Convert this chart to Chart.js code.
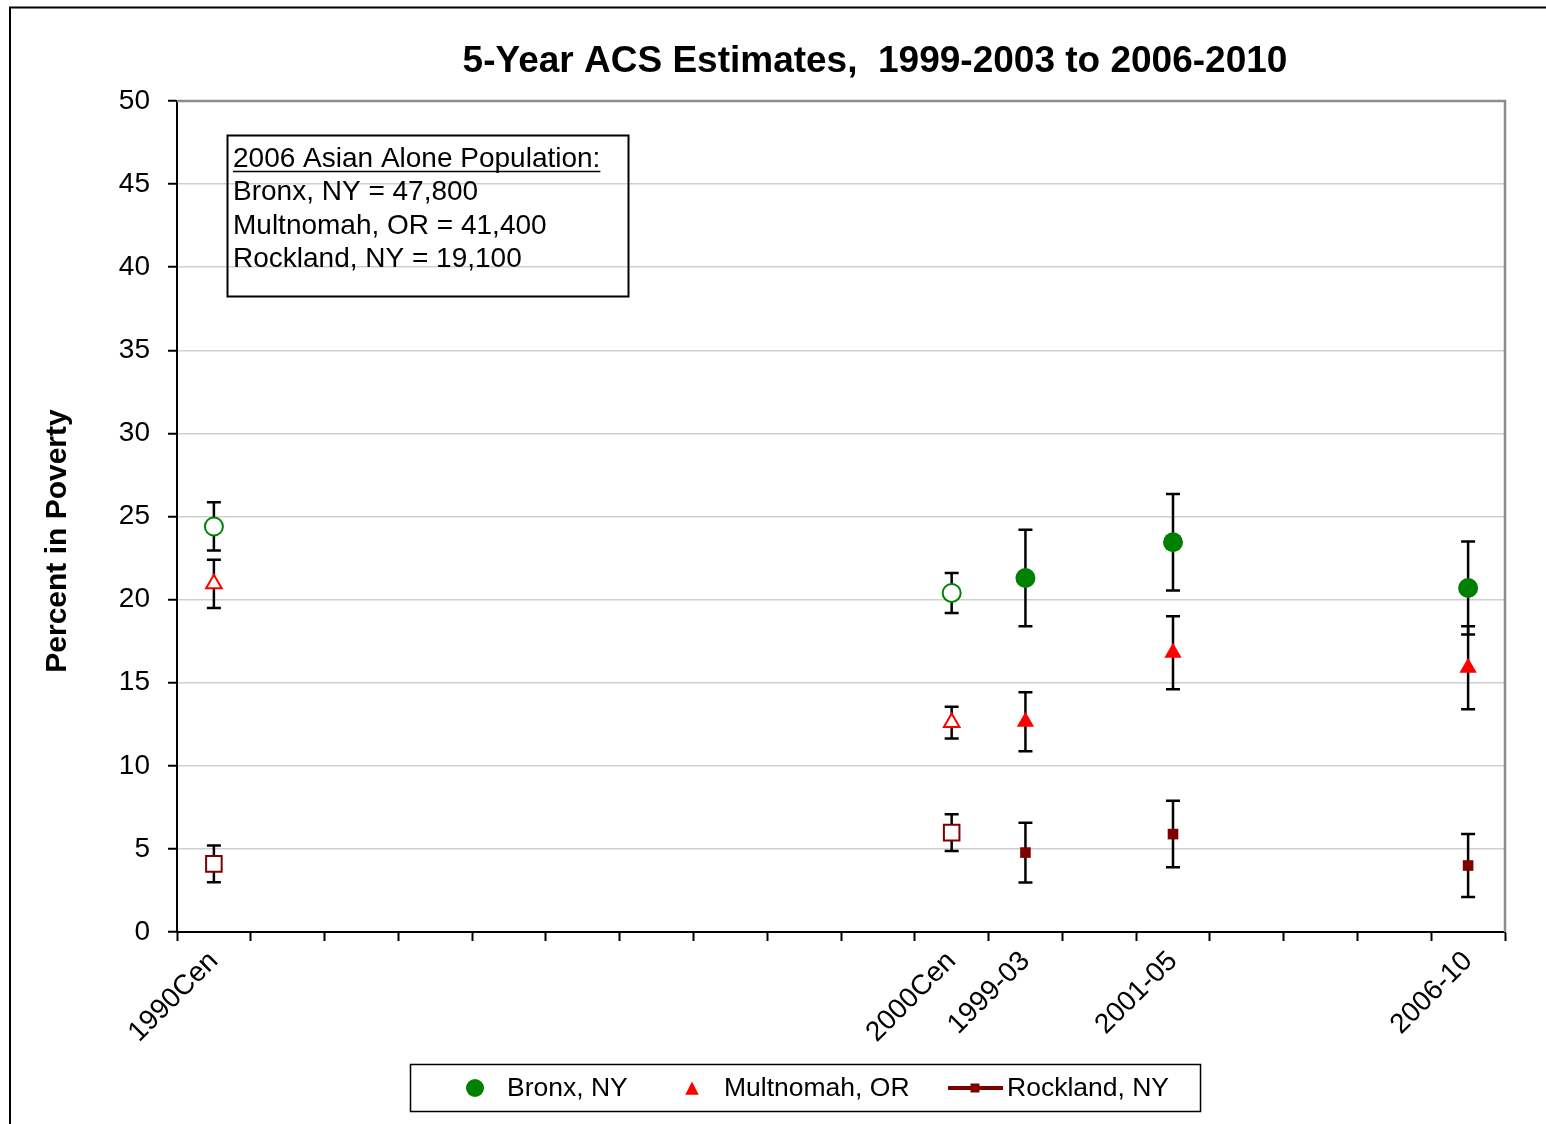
<!DOCTYPE html>
<html>
<head>
<meta charset="utf-8">
<title>5-Year ACS Estimates</title>
<script src="https://cdn.jsdelivr.net/npm/chart.js@4.4.1/dist/chart.umd.min.js"></script>
<style>
  html, body { margin: 0; padding: 0; background: #fff; }
  #wrap { width: 1546px; height: 1124px; }
</style>
</head>
<body>
<div id="wrap"><canvas id="povertyChart" width="1546" height="1124"></canvas></div>
<script>
// categories on the x axis, only a few carry a label
const categories = ['1990Cen', '', '', '', '', '', '', '', '', '', '2000Cen', '1999-03', '', '2001-05', '', '', '', '2006-10'];

const bronxValues = [24.4, null, null, null, null, null, null, null, null, null, 20.4, 21.3, null, 23.45, null, null, null, 20.7];
const bronxErrors = [1.45, null, null, null, null, null, null, null, null, null, 1.2, 2.9, null, 2.9, null, null, null, 2.8];

const multnomahValues = [20.95, null, null, null, null, null, null, null, null, null, 12.6, 12.65, null, 16.8, null, null, null, 15.9];
const multnomahErrors = [1.45, null, null, null, null, null, null, null, null, null, 0.95, 1.78, null, 2.2, null, null, null, 2.5];

const rocklandValues = [4.1, null, null, null, null, null, null, null, null, null, 5.98, 4.78, null, 5.89, null, null, null, 4.0];
const rocklandErrors = [1.1, null, null, null, null, null, null, null, null, null, 1.1, 1.8, null, 2.0, null, null, null, 1.9];

const yTicks = { min: 0, max: 50, step: 5 };

const titleText = '5-Year ACS Estimates,  1999-2003 to 2006-2010';
const yAxisTitle = 'Percent in Poverty';
const noteLines = ['2006 Asian Alone Population:', 'Bronx, NY = 47,800', 'Multnomah, OR = 41,400', 'Rockland, NY = 19,100'];

const FONT = 'Arial, "Liberation Sans", sans-serif';

// census columns get hollow markers
function isCensus(i) {
  return categories[i].endsWith('Cen');
}

function makeDataset(label, values, errors, color, style, openRadius, filledRadius) {
  return {
    label: label,
    data: values,
    errorBars: errors,
    showLine: false,
    markerColor: color,
    pointStyle: style,
    pointRadius: ctx => isCensus(ctx.dataIndex) ? openRadius : filledRadius,
    pointHoverRadius: ctx => isCensus(ctx.dataIndex) ? openRadius : filledRadius,
    pointBackgroundColor: ctx => isCensus(ctx.dataIndex) ? '#ffffff' : color,
    pointBorderColor: color,
    pointBorderWidth: ctx => isCensus(ctx.dataIndex) ? 2 : 0,
    borderColor: color,
    backgroundColor: color
  };
}

const errorBarPlugin = {
  id: 'errorBars',
  beforeDatasetsDraw(chart) {
    const ctx = chart.ctx;
    const y = chart.scales.y;
    ctx.save();
    ctx.strokeStyle = '#000';
    ctx.lineWidth = 2.5;
    chart.data.datasets.forEach((ds, di) => {
      const meta = chart.getDatasetMeta(di);
      ds.data.forEach((v, i) => {
        if (v == null) return;
        const e = ds.errorBars[i];
        const px = meta.data[i].x;
        const top = y.getPixelForValue(v + e);
        const bot = y.getPixelForValue(v - e);
        ctx.beginPath();
        ctx.moveTo(px, top); ctx.lineTo(px, bot);
        ctx.moveTo(px - 7, top); ctx.lineTo(px + 7, top);
        ctx.moveTo(px - 7, bot); ctx.lineTo(px + 7, bot);
        ctx.stroke();
      });
    });
    ctx.restore();
  }
};

function drawMarker(ctx, style, x, y, size, color) {
  ctx.fillStyle = color;
  ctx.beginPath();
  if (style === 'circle') {
    ctx.arc(x, y, size, 0, Math.PI * 2);
  } else if (style === 'triangle') {
    ctx.moveTo(x, y - size);
    ctx.lineTo(x + size * 0.9, y + size * 0.75);
    ctx.lineTo(x - size * 0.9, y + size * 0.75);
    ctx.closePath();
  } else {
    ctx.rect(x - size, y - size, size * 2, size * 2);
  }
  ctx.fill();
}

const decorPlugin = {
  id: 'decor',
  beforeDraw(chart) {
    const ctx = chart.ctx;
    ctx.save();
    // outer frame, runs off the right and bottom edges
    ctx.strokeStyle = '#000';
    ctx.lineWidth = 2;
    ctx.beginPath();
    ctx.moveTo(10, chart.height);
    ctx.lineTo(10, 7.5);
    ctx.lineTo(chart.width, 7.5);
    ctx.stroke();
    ctx.restore();
  },
  afterDraw(chart) {
    const ctx = chart.ctx;
    const area = chart.chartArea;
    ctx.save();

    // grey top and right plot border
    ctx.strokeStyle = '#8c8c8c';
    ctx.lineWidth = 2.5;
    ctx.beginPath();
    ctx.moveTo(area.left, area.top);
    ctx.lineTo(area.right, area.top);
    ctx.lineTo(area.right, area.bottom);
    ctx.stroke();

    // title
    ctx.fillStyle = '#000';
    ctx.font = 'bold 37px ' + FONT;
    ctx.textAlign = 'center';
    ctx.textBaseline = 'middle';
    ctx.fillText(titleText, 875, 62);

    // y axis title
    ctx.save();
    ctx.translate(58, 541);
    ctx.rotate(-Math.PI / 2);
    ctx.font = 'bold 30px ' + FONT;
    ctx.fillText(yAxisTitle, 0, 0);
    ctx.restore();

    // population note box
    ctx.strokeStyle = '#000';
    ctx.lineWidth = 2;
    ctx.strokeRect(227.5, 135.5, 401, 161);
    ctx.font = '28px ' + FONT;
    ctx.textAlign = 'left';
    noteLines.forEach((line, i) => {
      ctx.fillText(line, 233, 159 + i * 33.4);
    });
    const w = ctx.measureText(noteLines[0]).width;
    ctx.lineWidth = 1.5;
    ctx.beginPath();
    ctx.moveTo(233, 171.5);
    ctx.lineTo(233 + w, 171.5);
    ctx.stroke();

    // legend
    ctx.lineWidth = 1.5;
    ctx.strokeRect(410.5, 1064.5, 790, 47);
    const ly = 1088;
    const ds = chart.data.datasets;
    ctx.font = '26.5px ' + FONT;
    drawMarker(ctx, 'circle', 475, ly, 9, ds[0].markerColor);
    ctx.fillStyle = '#000';
    ctx.fillText(ds[0].label, 507, ly + 1);
    drawMarker(ctx, 'triangle', 692, ly + 1, 7.5, ds[1].markerColor);
    ctx.fillStyle = '#000';
    ctx.fillText(ds[1].label, 724, ly + 1);
    ctx.strokeStyle = ds[2].markerColor;
    ctx.lineWidth = 4;
    ctx.beginPath();
    ctx.moveTo(948, ly);
    ctx.lineTo(1003, ly);
    ctx.stroke();
    drawMarker(ctx, 'rect', 975, ly, 4.5, ds[2].markerColor);
    ctx.fillStyle = '#000';
    ctx.fillText(ds[2].label, 1007, ly + 1);

    ctx.restore();
  }
};

const ctx = document.getElementById('povertyChart').getContext('2d');
new Chart(ctx, {
  type: 'line',
  data: {
    labels: categories,
    datasets: [
      makeDataset('Bronx, NY', bronxValues, bronxErrors, '#008000', 'circle', 9, 10),
      makeDataset('Multnomah, OR', multnomahValues, multnomahErrors, '#ff0000', 'triangle', 9, 10),
      makeDataset('Rockland, NY', rocklandValues, rocklandErrors, '#800000', 'rect', 11, 7.5)
    ]
  },
  options: {
    responsive: false,
    animation: false,
    devicePixelRatio: 1,
    layout: { padding: { left: 0, right: 41, top: 101, bottom: 0 } },
    plugins: {
      legend: { display: false },
      title: { display: false },
      tooltip: { enabled: false }
    },
    scales: {
      x: {
        type: 'category',
        offset: true,
        afterFit: scale => { scale.height = 192; },
        grid: { offset: true, drawOnChartArea: false, tickLength: 9, tickColor: '#000', tickWidth: 2 },
        border: { color: '#000', width: 2 },
        ticks: {
          autoSkip: false,
          maxRotation: 45,
          minRotation: 45,
          padding: 4,
          color: '#000',
          font: { size: 28, family: FONT }
        }
      },
      y: {
        min: yTicks.min,
        max: yTicks.max,
        afterFit: scale => { scale.width = 177; },
        grid: { color: '#cfcfcf', lineWidth: 1.5, tickLength: 9, tickColor: '#000', tickWidth: 2 },
        border: { color: '#000', width: 2 },
        ticks: {
          stepSize: yTicks.step,
          padding: 18,
          color: '#000',
          font: { size: 28, family: FONT }
        }
      }
    }
  },
  plugins: [errorBarPlugin, decorPlugin]
});
</script>
</body>
</html>
